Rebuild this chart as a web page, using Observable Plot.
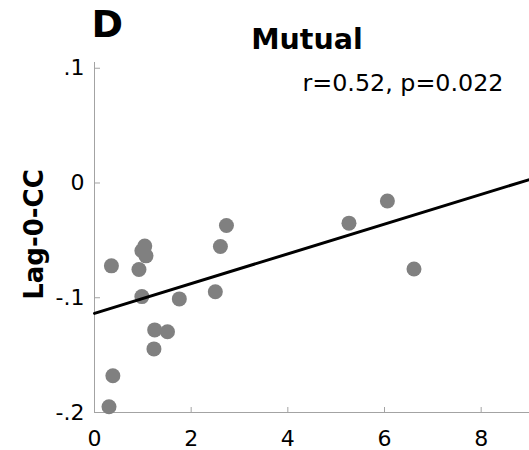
<!DOCTYPE html>
<html>
<head>
<meta charset="utf-8">
<script src="https://cdn.jsdelivr.net/npm/d3@7"></script>
<script src="https://cdn.jsdelivr.net/npm/@observablehq/plot@0.6"></script>
<style>
  html, body { margin: 0; padding: 0; background: #fff; }
  #chart { width: 529px; height: 450px; }
</style>
</head>
<body>
<div id="chart"></div>
<script>
// Data
const xValues = [0.35, 0.38, 0.30, 1.04, 0.98, 1.065, 0.92, 0.98, 1.245, 1.51, 1.23, 1.755, 2.50, 2.605, 2.73, 5.265, 6.06, 6.61];
const yValues = [-0.0722, -0.168, -0.195, -0.055, -0.059, -0.0635, -0.0754, -0.099, -0.128, -0.1296, -0.1446, -0.101, -0.0948, -0.0553, -0.037, -0.035, -0.0157, -0.075];
const fitX = [0, 9];
const fitY = [-0.1136, 0.003];
const xTicks = [0, 2, 4, 6, 8];
const yTicks = [0.1, 0, -0.1, -0.2];
const yTickLabels = [".1", "0", "-.1", "-.2"];
const panelLabel = "D";
const titleText = "Mutual";
const statText = "r=0.52, p=0.022";
const yLabel = "Lag-0-CC";

const points = xValues.map((x, i) => ({x, y: yValues[i]}));
const fit = fitX.map((x, i) => ({x, y: fitY[i]}));
const yLabelMap = new Map(yTicks.map((t, i) => [t, yTickLabels[i]]));

const FONT = "DejaVu Sans";
const axisColor = "#a3a3a3";

const chart = Plot.plot({
  width: 529,
  height: 450,
  marginLeft: 94,
  marginRight: 0,
  marginTop: 62,
  marginBottom: 38,
  style: {fontFamily: FONT, fontSize: "22px", background: "#fff", color: "#000", overflow: "visible"},
  x: {domain: [0, 9]},
  y: {domain: [-0.2, 0.105]},
  marks: [
    // axis lines
    Plot.ruleX([0], {y1: -0.2, y2: 0.105, stroke: axisColor, strokeWidth: 1}),
    Plot.ruleY([-0.2], {x1: 0, x2: 9, stroke: axisColor, strokeWidth: 1}),
    // inward ticks
    Plot.tickY(yTicks, {y: d => d, insetRight: 429, stroke: axisColor}),
    Plot.tickX(xTicks, {x: d => d, insetTop: 345, stroke: axisColor}),
    // tick labels
    Plot.axisX({ticks: xTicks, tickSize: 0, tickPadding: 18, fontSize: 22, fill: "#000", label: null, tickFormat: d => String(d)}),
    Plot.axisY({ticks: yTicks, tickSize: 0, tickPadding: 10, fontSize: 22, fill: "#000", label: null, tickFormat: d => yLabelMap.get(d)}),
    // data
    Plot.dot(points, {x: "x", y: "y", r: 7.5, fill: "#808080", stroke: "none"}),
    Plot.line(fit, {x: "x", y: "y", stroke: "#000", strokeWidth: 3}),
    // texts
    Plot.text([titleText], {frameAnchor: "top", dx: -5, dy: -14, lineAnchor: "bottom", fontSize: 28.5, fontWeight: "bold", fill: "#000"}),
    Plot.text([panelLabel], {frameAnchor: "top-left", textAnchor: "start", dx: -3, dy: -26, lineAnchor: "bottom", fontSize: 38, fontWeight: "bold", fill: "#000"}),
    Plot.text([statText], {frameAnchor: "top-right", textAnchor: "end", dx: -26, dy: 28, lineAnchor: "bottom", fontSize: 23.8, fill: "#000"}),
    Plot.text([yLabel], {frameAnchor: "left", rotate: -90, textAnchor: "middle", dx: -52, dy: -3, lineAnchor: "bottom", fontSize: 26, fontWeight: "bold", fill: "#000"})
  ]
});
document.getElementById("chart").appendChild(chart);
</script>
</body>
</html>
